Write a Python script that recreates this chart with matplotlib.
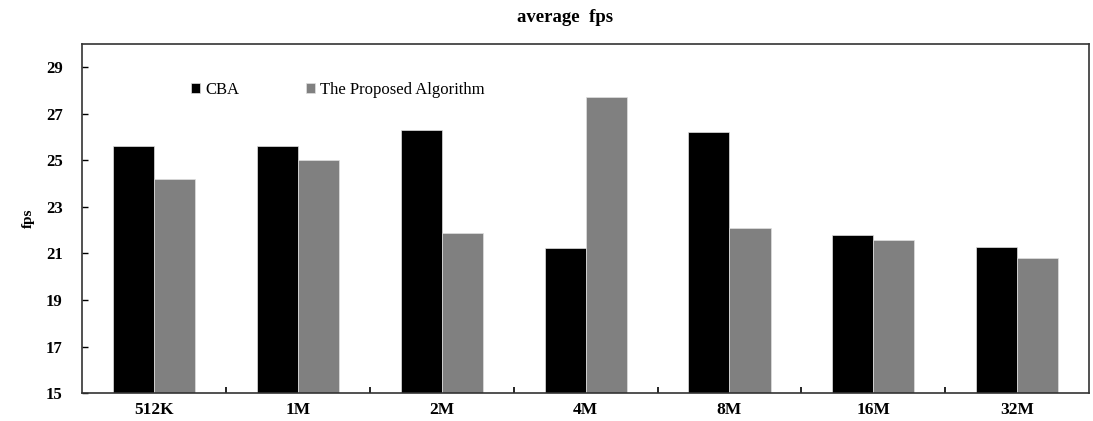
import numpy as np
import matplotlib

matplotlib.use("Agg")
import matplotlib.pyplot as plt

# values
categories = ["512K", "1M", "2M", "4M", "8M", "16M", "32M"]
cba_fps = [25.6, 25.6, 26.3, 21.25, 26.2, 21.8, 21.3]
proposed_fps = [24.2, 25.0, 21.9, 27.7, 22.1, 21.6, 20.8]
series_names = ["CBA", "The Proposed Algorithm"]

plt.rcParams["font.family"] = ["Liberation Serif", "DejaVu Serif"]

fig = plt.figure(figsize=(10.93, 4.21), dpi=100)
ax = fig.add_axes([0.0753, 0.066, 0.921, 0.8297])

x = np.arange(len(categories))
width = 0.286
ax.bar(x - width / 2, cba_fps, width, color="black", edgecolor="#e0e0e0",
       linewidth=0.5, label=series_names[0])
ax.bar(x + width / 2, proposed_fps, width, color="#808080", edgecolor="#e0e0e0",
       linewidth=0.5, label=series_names[1])

ax.set_xlim(-0.5, len(categories) - 0.5)
ax.set_ylim(15, 30)
ax.set_yticks(np.arange(15, 30, 2))
ax.set_xticks(x)
ax.set_xticklabels(categories, fontsize=12.5, fontweight="bold")
ax.set_xticks(x[:-1] + 0.5, minor=True)
ax.tick_params(axis="x", which="major", length=0, pad=6)
ax.tick_params(axis="x", which="minor", direction="in", length=4, width=1.2)
ax.tick_params(axis="y", direction="in", length=4, width=1.0, labelsize=12, pad=14)
for lbl in ax.get_yticklabels():
    lbl.set_fontweight("bold")
for sp in ax.spines.values():
    sp.set_linewidth(1.2)
    sp.set_color("#333333")

ax.set_ylabel("fps", fontsize=11, fontweight="bold", labelpad=8)
ax.set_title("average  fps", fontsize=13.5, fontweight="bold", pad=16, x=0.48)

ax.legend(ncol=2, frameon=False, loc="upper left", bbox_to_anchor=(0.093, 0.935),
          handlelength=0.55, handleheight=0.55, handletextpad=0.3, columnspacing=4.0,
          fontsize=12)

fig.savefig("out.png", dpi=100)
